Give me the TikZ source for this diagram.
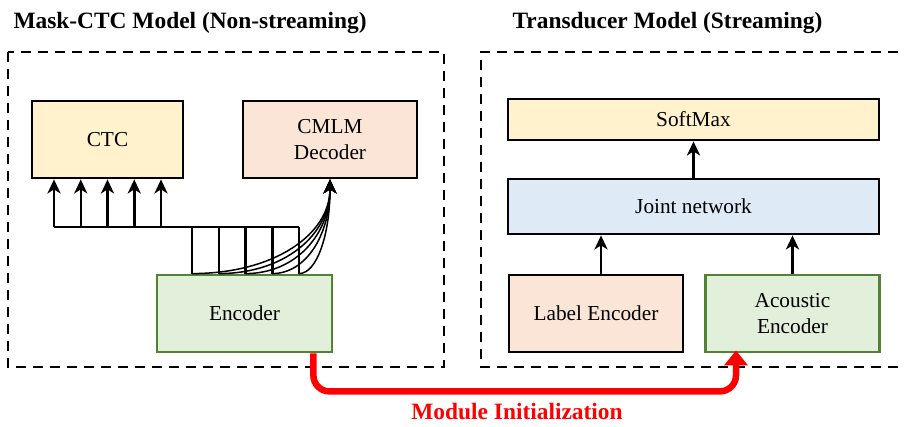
\documentclass[tikz,border=0pt]{standalone}
\usepackage{fontspec}
\setmainfont{Liberation Serif}
\usetikzlibrary{positioning, arrows.meta, calc}
\definecolor{ctcyellow}{RGB}{255, 242, 204}
\definecolor{decpeach}{RGB}{251, 229, 214}
\definecolor{encgreen}{RGB}{226, 239, 218}
\definecolor{encborder}{RGB}{84, 130, 53}
\definecolor{jointblue}{RGB}{222, 235, 247}

\begin{document}
\begin{tikzpicture}[>={Stealth[length=14pt, width=13pt, inset=4pt]}, x=1pt, y=-1pt,
    block/.style={draw=black, line width=2.8pt, inner sep=0pt, align=center, font=\fontsize{21.3}{25.5}\selectfont},
    encblock/.style={block, draw=encborder},
    frame/.style={line width=2.4pt, dash pattern=on 10pt off 7pt},
    title/.style={anchor=base west, font=\fontsize{23.4}{27}\selectfont\bfseries},
    link/.style={line width=2.5pt}]
    \useasboundingbox (0,0) rectangle (905,427);
    \node[title] (lefttitle) at (10,29) {Mask-CTC Model (Non-streaming)};
    \node[title] (righttitle) at (509,29) {Transducer Model (Streaming)};
    \draw[frame] (8,52) rectangle (444,367);
    \draw[frame] (915,52) -- (481,52) -- (481,367) -- (915,367);
    \node[block, fill=ctcyellow, minimum width=151pt, minimum height=77pt] (ctc) at (107.5,139.5) {CTC};
    \node[block, fill=decpeach, minimum width=174pt, minimum height=77pt] (cmlm) at (330,139.5) {CMLM\\Decoder};
    \node[encblock, fill=encgreen, minimum width=175pt, minimum height=77pt] (enc) at (244.5,313.5) {Encoder};
    \node[block, fill=ctcyellow, minimum width=371pt, minimum height=41pt] (softmax) at (693.5,119.5) {SoftMax};
    \node[block, fill=jointblue, minimum width=371pt, minimum height=55pt] (joint) at (693.5,206.5) {Joint network};
    \node[block, fill=decpeach, minimum width=174pt, minimum height=77pt] (lenc) at (596,313.5) {Label Encoder};
    \node[encblock, fill=encgreen, minimum width=174pt, minimum height=77pt] (aenc) at (792.5,313.5) {Acoustic\\Encoder};
    \coordinate (busL) at (54,227);
    \coordinate (busR) at (299,227);
    \draw[link] (busL) -- (busR);
    \foreach \i in {0,...,4} {
        \coordinate (up\i) at (54+26.75*\i,227);
        \draw[link, ->] (up\i) -- (up\i |- ctc.south);
        \coordinate (dn\i) at (192+26.75*\i,227);
        \draw[link] (dn\i) -- (dn\i |- enc.north);
    }
    \foreach \i in {0,...,4}
        \draw[line width=1.5pt, ->] (dn\i |- enc.north) .. controls +({0.6*(137-26.75*\i)},0) and +(0,55) .. (cmlm.south);
    \draw[link, ->] (joint.north) -- (softmax.south);
    \draw[link, ->] ([xshift=5pt]lenc.north) -- ([xshift=5pt]lenc.north |- joint.south);
    \draw[link, ->] (aenc.north) -- (joint.south -| aenc.north);
    \draw[red, line width=6.5pt, rounded corners=16pt, -{Triangle[length=15pt, width=23pt]}]
        ([xshift=-20pt]enc.south east) -- ++(0,38) -| ([xshift=-56.5pt, yshift=3pt]aenc.south);
    \node[red, font=\fontsize{23.4}{27}\selectfont\bfseries] (initlbl) at (517,412) {Module Initialization};
\end{tikzpicture}
\end{document}
